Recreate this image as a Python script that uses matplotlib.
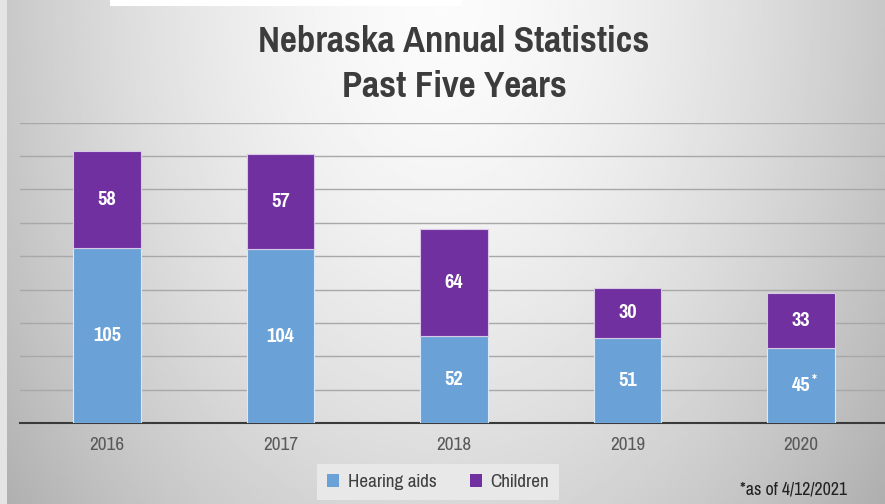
import numpy as np
import matplotlib
matplotlib.use("Agg")
import matplotlib.pyplot as plt
from matplotlib import font_manager
from matplotlib.patches import Patch, Rectangle


# data
years = ["2016", "2017", "2018", "2019", "2020"]
hearing_aids = [105, 104, 52, 51, 45]
children = [58, 57, 64, 30, 33]
hearing_labels = ["105", "104", "52", "51", "45"]
children_labels = ["58", "57", "64", "30", "33"]
footnote = "*as of 4/12/2021"

blue = "#6aa2d7"
purple = "#7030a0"


# the original uses Arial Narrow, take the closest narrow family installed
def weight_of(f):
    w = f.weight
    if isinstance(w, str):
        w = font_manager.weight_dict.get(w, 400)
    return int(w)


def pick(wanted):
    prefs = ["Liberation Sans Narrow", "Arial Narrow", "Pragati Narrow",
             "Roboto Condensed", "PT Sans Narrow", "Archivo Narrow",
             "Asap Condensed", "Barlow Condensed"]
    for name in prefs:
        for f in font_manager.fontManager.ttflist:
            if f.name == name and f.style == "normal" and weight_of(f) == wanted:
                return [name]
    return []


narrow = pick(400) + ["Liberation Sans", "DejaVu Sans"]
narrow_bold = pick(700) + ["Liberation Sans", "DejaVu Sans"]

fig = plt.figure(figsize=(8.85, 5.04), dpi=100)

# gray gradient background, light at the top centre
bg = fig.add_axes([0, 0, 1, 1], zorder=0)
xx, yy = np.meshgrid(np.linspace(-1, 1, 400), np.linspace(0, 1, 240))
r = np.sqrt((xx / 1.05) ** 2 + (yy * 0.75) ** 2)
shade = 0.985 - 0.22 * np.clip(r, 0, 1.3) ** 1.6
bg.imshow(shade, cmap="gray", vmin=0, vmax=1, aspect="auto",
          extent=[0, 1, 0, 1], origin="upper")
bg.add_patch(Rectangle((110 / 885, 1 - 6 / 504), 352 / 885, 6 / 504,
                       facecolor="white", edgecolor="none"))
bg.add_patch(Rectangle((0, 0), 7 / 885, 1, facecolor="#e4e4e4",
                       edgecolor="none"))
bg.set_xlim(0, 1)
bg.set_ylim(0, 1)
bg.axis("off")

ax = fig.add_axes([20 / 885, 81 / 504, 868 / 885, 300.3 / 504], zorder=1)
ax.patch.set_alpha(0)

x = np.arange(len(years))
ax.bar(x, hearing_aids, width=0.39, color=blue, edgecolor="#dbe8f5",
       linewidth=0.8, zorder=3)
ax.bar(x, children, width=0.39, bottom=hearing_aids, color=purple,
       edgecolor="#d9c8e6", linewidth=0.8, zorder=3)

for i in range(len(years)):
    ax.text(x[i], hearing_aids[i] / 2, hearing_labels[i], ha="center",
            va="center", color="white", fontsize=16, fontweight="bold",
            family=narrow_bold, zorder=4)
    ax.text(x[i], hearing_aids[i] + children[i] / 2, children_labels[i],
            ha="center", va="center", color="white", fontsize=16,
            fontweight="bold", family=narrow_bold, zorder=4)
# asterisk on the last hearing aids value
ax.annotate("*", (x[-1], hearing_aids[-1] / 2), xytext=(8, 4),
            textcoords="offset points", ha="left", va="center",
            color="white", fontsize=12, fontweight="bold",
            family=narrow_bold, zorder=4)

ax.set_xlim(-0.5, len(years) - 0.5)
ax.set_ylim(0, 180)
ax.set_yticks(np.arange(20, 181, 20))
ax.yaxis.grid(True, color="#a8a8a8", linewidth=1.0, zorder=0)
ax.set_axisbelow(True)
ax.tick_params(axis="y", left=False, labelleft=False)
ax.tick_params(axis="x", length=0, pad=10, labelsize=15, labelcolor="#595959")
ax.set_xticks(x)
ax.set_xticklabels(years, family=narrow)
for side in ["top", "right", "left"]:
    ax.spines[side].set_visible(False)
ax.spines["bottom"].set_color("#3a3a3a")
ax.spines["bottom"].set_linewidth(1.5)

fig.text(0.513, 1 - 41 / 504, "Nebraska Annual Statistics", ha="center",
         va="center", fontsize=29, fontweight="bold", color="#3c3c3c",
         family=narrow_bold)
fig.text(0.513, 1 - 86 / 504, "Past Five Years", ha="center", va="center",
         fontsize=29, fontweight="bold", color="#3c3c3c", family=narrow_bold)

handles = [Patch(facecolor=blue, label="Hearing aids"),
           Patch(facecolor=purple, label="Children")]
leg = fig.legend(handles=handles, loc="center", ncol=2,
                 bbox_to_anchor=(438 / 885, 1 - 482 / 504), frameon=True,
                 fancybox=False, prop={"family": narrow, "size": 15},
                 handlelength=0.6, handleheight=0.6, handletextpad=0.4,
                 columnspacing=1.6, borderpad=0.45)
leg.get_frame().set_facecolor("#e8e8e8")
leg.get_frame().set_edgecolor("none")
leg.get_frame().set_alpha(1)
for t in leg.get_texts():
    t.set_color("#404040")

fig.text(794 / 885, 1 - 489 / 504, footnote, ha="center", va="center",
         fontsize=14, color="#202020", family=narrow)

fig.savefig("out.png", dpi=100)
